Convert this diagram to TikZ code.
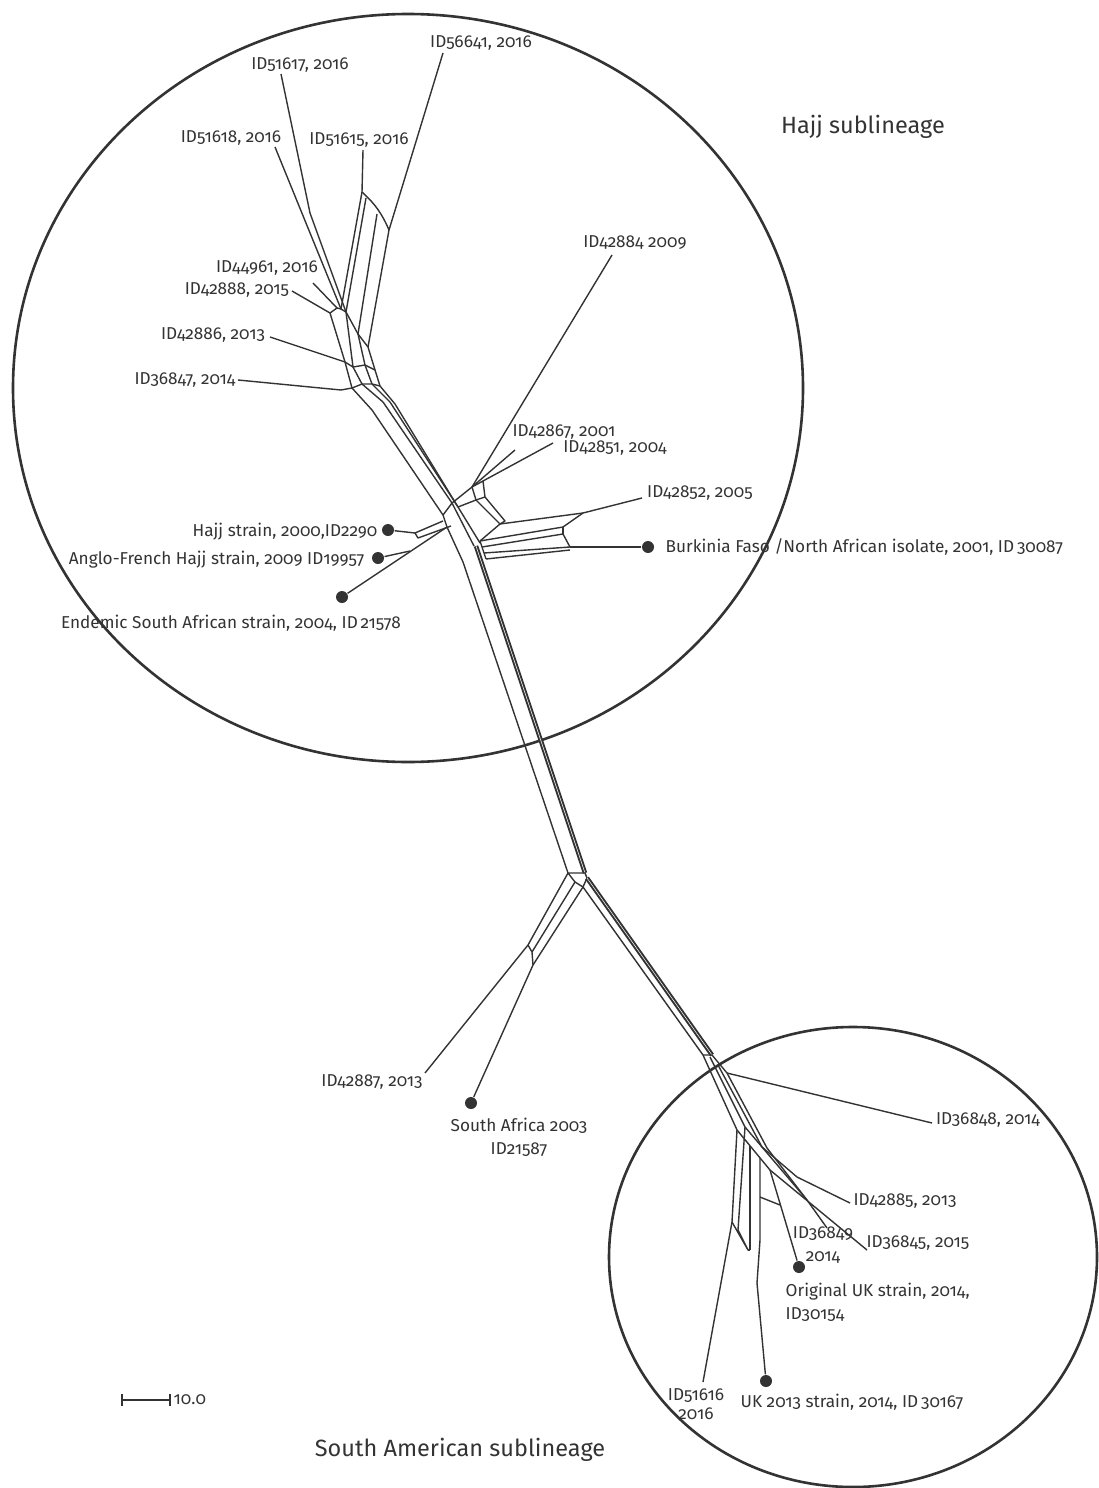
\documentclass[tikz,border=0pt]{standalone}
\usepackage{fontspec}
\setmainfont{Fira Sans}[Numbers=OldStyle]
\usetikzlibrary{positioning}
\definecolor{ink}{HTML}{333333}

\begin{document}
\begin{tikzpicture}[x=1pt,y=-1pt,
    color=ink,
    line width=1.4pt,
    line join=round,
    bundle/.style = {line width=2pt, double=white, double distance=0.5pt},
    ring/.style = {line width=2.6pt},
    dot/.style = {circle, fill=ink, inner sep=0pt, minimum size=12pt},
    tag/.style = {inner sep=0pt, font=\fontsize{17.2}{23}\selectfont},
    title/.style = {inner sep=0pt, font=\fontsize{23.5}{28}\selectfont}
  ]
  \useasboundingbox (0,0) rectangle (1098,1488);

  % sublineage rings
  \draw[ring] (408,388) ellipse [x radius=395, y radius=374];
  \draw[ring] (853,1257) ellipse [x radius=244, y radius=230];
  \node[title] (hajj) at (863,127) {Hajj sublineage};
  \node[title] (samer) at (460,1450) {South American sublineage};

  % labels and tips, Hajj sublineage
  \node[tag] (l56641) at (481,43)  {ID56641, 2016};
  \node[tag] (l51617) at (300,65)  {ID51617, 2016};
  \node[tag] (l51618) at (231,138) {ID51618, 2016};
  \node[tag] (l51615) at (359,140) {ID51615, 2016};
  \node[tag] (l42884) at (635,243) {ID42884 2009};
  \node[tag] (l44961) at (267,268) {ID44961, 2016};
  \node[tag] (l42888) at (237,290) {ID42888, 2015};
  \node[tag] (l42886) at (213,335) {ID42886, 2013};
  \node[tag] (l36847) at (185,380) {ID36847, 2014};
  \node[tag] (l42867) at (564,432) {ID42867, 2001};
  \node[tag] (l42851) at (615,448) {ID42851, 2004};
  \node[tag] (l42852) at (700,493) {ID42852, 2005};
  \node[tag,anchor=east] (lhajjs) at (378,532) {Hajj strain, 2000,ID2290};
  \node[tag,anchor=east] (langlo) at (365,560) {Anglo-French Hajj strain, 2009 ID19957};
  \node[tag] (lendem) at (231,623) {Endemic South African strain, 2004, ID\,21578};
  \node[tag,anchor=west] (lburk) at (665,547) {Burkinia Faso /North African isolate, 2001, ID\,30087};

  \coordinate (t56641) at (443,53);
  \coordinate (t51617) at (281,74);
  \coordinate (t51618) at (275,147);
  \coordinate (t51615) at (363,150);
  \coordinate (t42884) at (612,255);
  \coordinate (t44961) at (313,283);
  \coordinate (t42888) at (292,291);
  \coordinate (t42886) at (270,337);
  \coordinate (t36847) at (238,380);
  \coordinate (t42867) at (515,450);
  \coordinate (t42851) at (553,443);
  \coordinate (t42852) at (642,498);
  \node[dot] (dhajjs) at (388,530) {};
  \node[dot] (danglo) at (378,558) {};
  \node[dot] (dendem) at (342,597) {};
  \node[dot] (dburk)  at (648,547) {};

  % labels and tips, lower part
  \node[tag] (l42887) at (372,1082) {ID42887, 2013};
  \node[tag,align=center] (lsa) at (519,1137) {South Africa 2003\\ID21587};
  \node[tag] (l36848) at (988,1120) {ID36848, 2014};
  \node[tag] (l42885) at (905,1201) {ID42885, 2013};
  \node[tag,align=center] (l36849) at (823,1245) {ID36849\\2014};
  \node[tag] (l36845) at (918,1243) {ID36845, 2015};
  \node[tag,align=left,anchor=west] (lorig) at (785,1302) {Original UK strain, 2014,\\ID30154};
  \node[tag,align=center,font=\fontsize{17.2}{19}\selectfont] (l51616) at (696,1404) {ID51616\\2016};
  \node[tag] (luk13) at (852,1402) {UK 2013 strain, 2014, ID\,30167};

  \coordinate (t42887) at (425,1073);
  \coordinate (t36848) at (932,1123);
  \coordinate (t42885) at (850,1203);
  \coordinate (t36849) at (827,1228);
  \coordinate (t36845) at (867,1250);
  \coordinate (t51616) at (703,1382);
  \node[dot] (dsa)   at (471,1103) {};
  \node[dot] (dorig) at (799,1267) {};
  \node[dot] (duk13) at (766,1381) {};

  % junctions of the network
  \coordinate (j51615) at (362,192);
  \coordinate (j56641) at (389,230);
  \coordinate (j51618) at (341,309);
  \coordinate (j51617) at (346,312);
  \coordinate (j44961) at (337,308);
  \coordinate (j42888) at (330,313);
  \coordinate (j42886) at (345,362);
  \coordinate (j36847) at (341,390);
  \coordinate (jtop)   at (472,487);
  \coordinate (j42851) at (483,481);
  \coordinate (j42852) at (583,513);
  \coordinate (jburk)  at (570,547);
  \coordinate (jhajjs) at (415,533);
  \coordinate (jendem) at (447,527);
  \coordinate (janglo) at (410,551);
  \coordinate (jlow)   at (528,945);
  \coordinate (jsa)    at (533,965);
  \coordinate (j36848) at (727,1073);
  \coordinate (j42885) at (797,1177);
  \coordinate (j36845) at (770,1170);
  \coordinate (j36849) at (807,1200);
  \coordinate (j51616) at (732,1222);
  \coordinate (juk)    at (748,1250);

  % upper cluster
  \draw (j51615) -- (j51618);
  \draw (366,198) -- (j51617);
  \draw (j51615) to[bend left=12] (j56641);
  \draw (377,214) -- (358,334);
  \draw (j56641) -- (368,347);
  \draw (j42888) -- (j44961) -- (j51618) -- (j51617);
  \draw (j42888) -- (j42886) -- (352,388) -- (372,410);
  \draw (j51617) -- (353,367) -- (362,384) -- (383,402);
  \draw (j51617) -- (358,334) -- (365,365) -- (372,384) -- (390,402);
  \draw (358,334) -- (368,347) -- (375,370) -- (380,386) -- (395,404);
  \draw (j42886) -- (353,367) -- (365,365) -- (375,370);
  \draw (j36847) -- (352,388) -- (362,384) -- (372,384) -- (380,386);

  % Hajj hub
  \draw (372,410) -- (443,515) -- (jendem) -- (463,562);
  \draw (383,402) -- (452,503) -- (474,546);
  \draw (390,402) -- (458,507) -- (480,543);
  \draw (395,404) -- (458,507);
  \draw (443,515) -- (452,503) -- (jtop) -- (j42851) -- (485,497) -- (476,500) -- (458,507);
  \draw (jtop) -- (476,500) -- (500,524) -- (505,521) -- (485,497);
  \draw (500,524) -- (480,541);
  \draw (500,524) -- (j42852);
  \draw (480,541) -- (563,527) -- (j42852);
  \draw (482,547) -- (563,534) -- (jburk);
  \draw (484,553) -- (jburk);
  \draw (486,559) -- (570,550);
  \draw (480,541) -- (486,559);
  \draw (563,527) -- (563,534);
  \draw (jhajjs) -- (443,521);
  \draw (jhajjs) -- (418,538) -- (451,526);

  % trunk
  \draw[bundle] (476,546) -- (585,873);
  \draw (463,562) -- (568,873);
  \draw (568,873) -- (585,873) -- (587,878) -- (583,887) -- (575,882) -- cycle;
  \draw (568,873) -- (jlow);
  \draw (575,882) -- (532,952);
  \draw (583,887) -- (jsa);
  \draw (jlow) -- (532,952) -- (jsa);
  \draw[bundle] (587,878) -- (712,1055);
  \draw (583,887) -- (703,1055);

  % South American cluster
  \draw (703,1055) -- (712,1055) -- (j36848);
  \draw (703,1055) -- (737,1130) -- (j51616);
  \draw (710,1057) -- (745,1127) -- (738,1230);
  \draw (718,1065) -- (762,1147) -- (j42885);
  \draw (j36848) -- (767,1148) -- (j36849);
  \draw (745,1127) -- (j36849);
  \draw (737,1130) -- (j36845);
  \draw (750,1146) -- (750,1250);
  \draw (760,1158) -- (760,1240) -- (757,1283);
  \draw (760,1197) -- (780,1205);
  \draw (j51616) -- (juk) -- (738,1230);
  \draw (750,1250) -- (juk);

  % tip connectors
  \draw (t56641) -- (j56641);
  \draw (t51617) -- (310,213) -- (j51617);
  \draw (t51618) -- (j51618);
  \draw (t51615) -- (j51615);
  \draw (t44961) -- (j44961);
  \draw (t42888) -- (j42888);
  \draw (t42886) -- (j42886);
  \draw (t36847) -- (j36847);
  \draw (t42884) -- (jtop);
  \draw (t42867) -- (jtop);
  \draw (t42851) -- (j42851);
  \draw (t42852) -- (j42852);
  \draw (dburk) -- (jburk);
  \draw (dhajjs) -- (jhajjs);
  \draw (danglo) -- (janglo);
  \draw (dendem) -- (jendem);
  \draw (t42887) -- (jlow);
  \draw (dsa) -- (jsa);
  \draw (t36848) -- (j36848);
  \draw (t42885) -- (j42885);
  \draw (t36845) -- (j36845);
  \draw (t36849) -- (j36849);
  \draw (dorig) -- (j36845);
  \draw (t51616) -- (j51616);
  \draw (duk13) -- (757,1283);

  % scale bar
  \coordinate (sb0) at (122,1400);
  \coordinate (sb1) at (170,1400);
  \draw[line width=1.4pt] (sb0) -- (sb1);
  \draw[line width=1.4pt] ([yshift=6pt]sb0) -- ([yshift=-6pt]sb0);
  \draw[line width=1.4pt] ([yshift=6pt]sb1) -- ([yshift=-6pt]sb1);
  \node[tag, right=3pt of sb1] (scale) {10.0};
\end{tikzpicture}
\end{document}
